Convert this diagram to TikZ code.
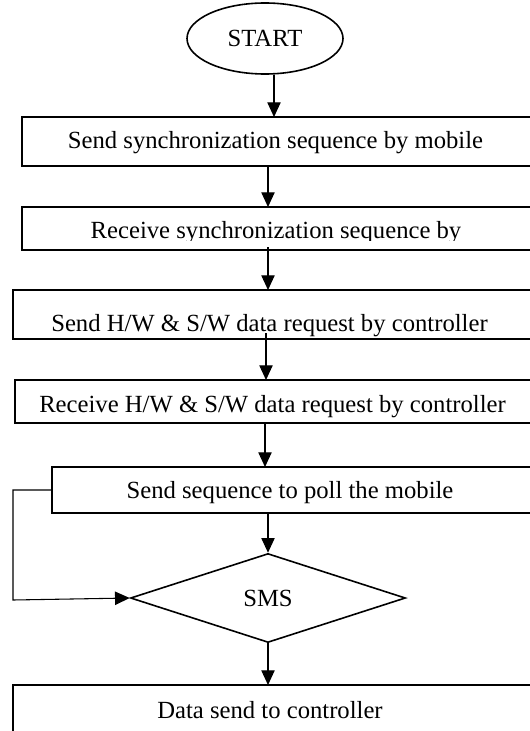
\documentclass[tikz,border=0pt]{standalone}
\usepackage{fontspec}
\setmainfont{Liberation Serif}
\usetikzlibrary{shapes.geometric,arrows.meta}
\begin{document}
\begin{tikzpicture}[x=0.75pt,y=-0.75pt,
  box/.style={draw,line width=1.6pt,rectangle,inner sep=0,outer sep=0,anchor=north west,minimum width=560*0.75pt},
  lbl/.style={font=\fontsize{18.5}{22}\selectfont,inner sep=0,anchor=base},
  arr/.style={line width=0.8pt,-{Triangle[length=11pt,width=10pt]}}]
\useasboundingbox (0,0) rectangle (530,731);
\clip (0,0) rectangle (530,731);
% start
\node[draw,ellipse,line width=1.2pt,minimum width=156*0.75pt,minimum height=71*0.75pt,inner sep=0,
      font=\fontsize{18.5}{22}\selectfont] (st) at (265,38.5) {START};
% boxes
\node[box,minimum height=49*0.75pt] (b1) at (22,117) {};
\node[box,minimum height=43*0.75pt] (b2) at (22,207) {};
\node[box,minimum height=49*0.75pt] (b3) at (13,290) {};
\node[box,minimum height=43*0.75pt] (b4) at (15,380) {};
\node[box,minimum height=46*0.75pt] (b5) at (52,467) {};
\node[box,minimum height=90*0.75pt] (b6) at (13,685) {};
% texts
\node[lbl] (t1) at (275.5,149) {Send synchronization sequence by mobile};
\begin{scope}
\clip (22,207) rectangle (530,240);
\node[lbl] (t2) at (276,238) {Receive synchronization sequence by};
\end{scope}
\node[lbl] (t3) at (269.5,331) {Send H/W \& S/W data request by controller};
\node[lbl] (t4) at (272.5,412) {Receive H/W \& S/W data request by controller};
\node[lbl] (t5) at (290,498) {Send sequence to poll the mobile};
\node[lbl] (t6) at (270,718) {Data send to controller};
% decision
\node[draw,diamond,line width=1.2pt,minimum width=275*0.75pt,minimum height=89*0.75pt,inner sep=0,
      font=\fontsize{18.5}{22}\selectfont] (sms) at (268,598) {SMS};
% connector x positions
\coordinate (c0) at (274,0);
\coordinate (c1) at (268,0);
\coordinate (c2) at (268,247);
\coordinate (c3) at (266,333);
\coordinate (c4) at (265,0);
\coordinate (lp) at (13,600);
% connectors
\draw[arr] (st.south -| c0) -- (b1.north -| c0);
\draw[arr] (b1.south -| c1) -- (b2.north -| c1);
\draw[arr] (c2) -- (b3.north -| c2);
\draw[arr] (c3) -- (b4.north -| c3);
\draw[arr] (b4.south -| c4) -- (b5.north -| c4);
\draw[arr] (b5.south -| sms.north) -- (sms.north);
\draw[arr] (sms.south) -- (b6.north -| sms.south);
\draw[arr] (b5.west) -- (b5.west -| lp) -- (lp) -- (sms.west);
\end{tikzpicture}
\end{document}
